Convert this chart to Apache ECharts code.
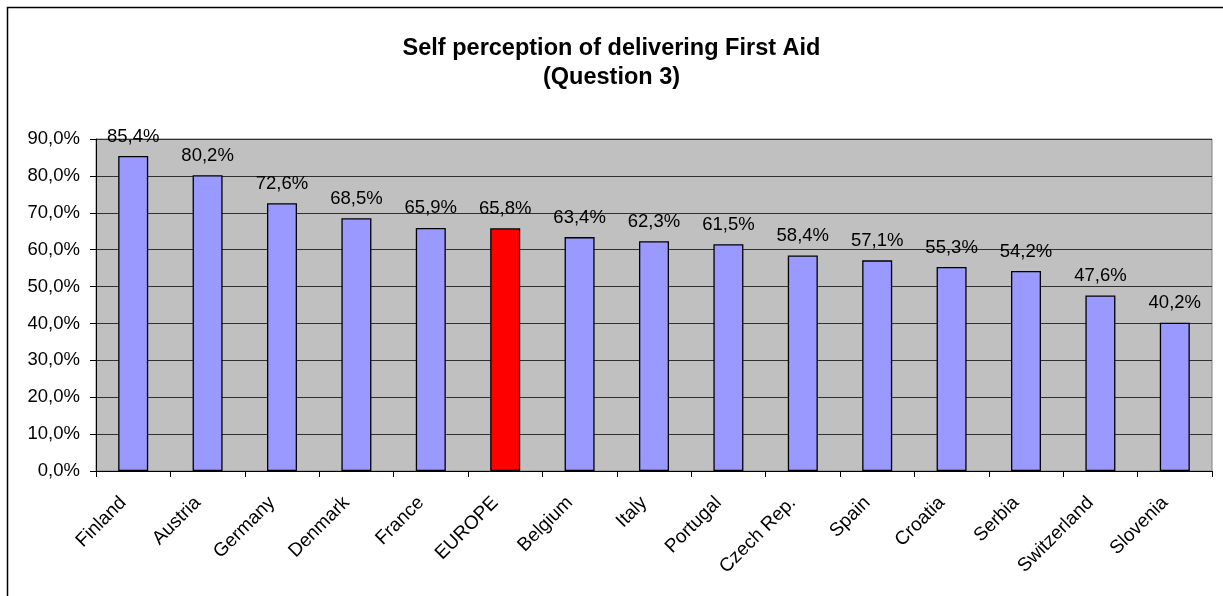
<!DOCTYPE html>
<html>
<head>
<meta charset="utf-8">
<script src="https://cdn.jsdelivr.net/npm/echarts@6/dist/echarts.min.js"></script>
<style>
  html, body { margin: 0; padding: 0; background: #fff; }
  #chart { width: 1223px; height: 596px; }
</style>
</head>
<body>
<div id="chart"></div>
<script>
  // data
  const categories = ['Finland', 'Austria', 'Germany', 'Denmark', 'France', 'EUROPE', 'Belgium', 'Italy',
    'Portugal', 'Czech Rep.', 'Spain', 'Croatia', 'Serbia', 'Switzerland', 'Slovenia'];
  const values = [85.4, 80.2, 72.6, 68.5, 65.9, 65.8, 63.4, 62.3, 61.5, 58.4, 57.1, 55.3, 54.2, 47.6, 40.2];
  const highlight = 'EUROPE';

  const fmt = (v) => v.toFixed(1).replace('.', ',') + '%';

  const chart = echarts.init(document.getElementById('chart'));

  const option = {
    animation: false,
    textStyle: { fontFamily: 'Liberation Sans, Arial, sans-serif' },
    graphic: [
      {
        type: 'rect',
        shape: { x: 7.5, y: 7.5, width: 1300, height: 700 },
        style: { fill: 'none', stroke: '#000', lineWidth: 1.5 },
        silent: true,
      },
    ],
    title: {
      text: 'Self perception of delivering First Aid\n(Question 3)',
      left: 'center',
      top: 29,
      textStyle: {
        fontFamily: 'Liberation Sans, Arial, sans-serif',
        fontSize: 23.5,
        fontWeight: 'bold',
        color: '#000',
        lineHeight: 29,
      },
    },
    grid: { left: 96, right: 11, top: 139, bottom: 125, show: true, backgroundColor: '#C0C0C0', borderColor: '#808080', borderWidth: 1 },
    xAxis: {
      type: 'category',
      data: categories,
      axisLine: { lineStyle: { color: '#000', width: 1 } },
      axisTick: { show: true, length: 6, lineStyle: { color: '#000' } },
      axisLabel: { rotate: 45, color: '#000', fontSize: 19, margin: 19, padding: [0, 14, 0, 0], interval: 0 },
    },
    yAxis: {
      type: 'value',
      min: 0,
      max: 90,
      interval: 10,
      axisLine: { show: true, lineStyle: { color: '#000' } },
      axisTick: { show: true, length: 6, lineStyle: { color: '#000' } },
      axisLabel: { color: '#000', fontSize: 18.5, margin: 16, formatter: (v) => fmt(v) },
      splitLine: { show: true, lineStyle: { color: '#303030', width: 1 } },
    },
    series: [
      {
        type: 'bar',
        barWidth: 30,
        data: values.map((v, i) => ({
          value: v,
          itemStyle: { color: categories[i] === highlight ? '#FF0000' : '#9999FF' },
        })),
        itemStyle: { borderColor: '#000', borderWidth: 1.3 },
        label: {
          show: true,
          position: 'top',
          distance: 10,
          color: '#000',
          fontSize: 18.5,
          formatter: (p) => fmt(p.value),
        },
      },
    ],
  };

  chart.setOption(option);
</script>
</body>
</html>
